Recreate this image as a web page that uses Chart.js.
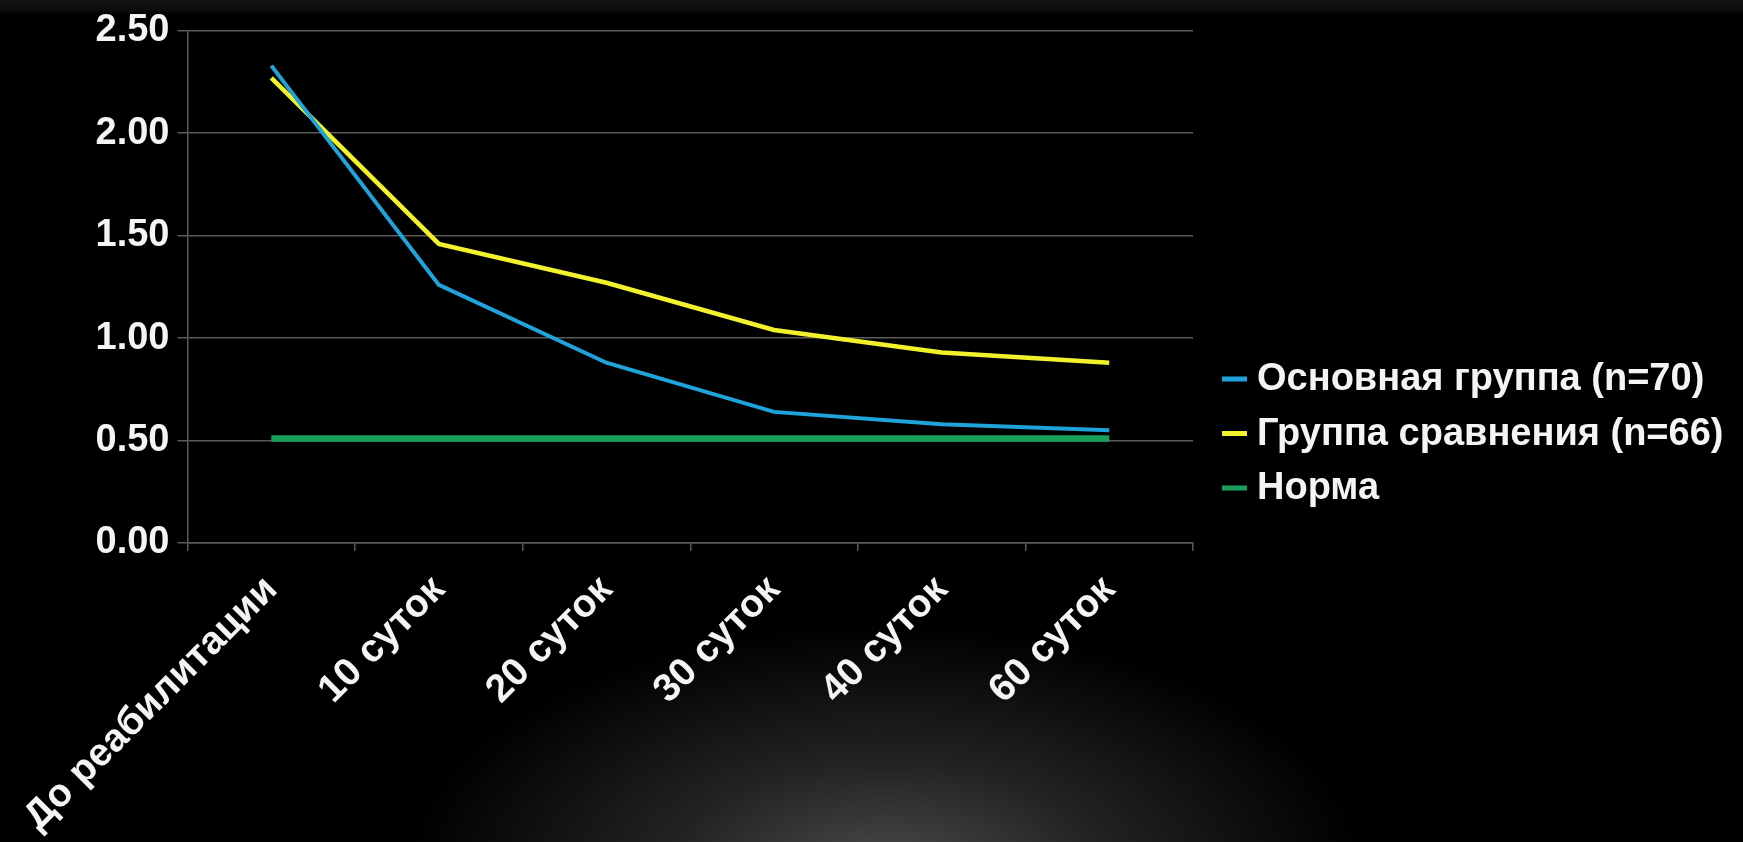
<!DOCTYPE html>
<html lang="ru">
<head>
<meta charset="utf-8">
<title>Динамика показателя</title>
<script src="https://cdn.jsdelivr.net/npm/chart.js@4.4.1/dist/chart.umd.min.js"></script>
<style>
    html, body {
        margin: 0;
        padding: 0;
        width: 1743px;
        height: 842px;
        overflow: hidden;
        background:
            linear-gradient(to bottom, #121212 0px, #0c0c0c 10px, rgba(0,0,0,0) 14px),
            radial-gradient(ellipse 480px 250px at 885px 875px, #4c4c4c 0%, #232323 45%, #000 100%),
            #000;
    }
    #wrap {
        position: absolute;
        left: 0;
        top: 0;
        width: 1743px;
        height: 842px;
    }
</style>
</head>
<body>
<div id="wrap"><canvas id="chart"></canvas></div>
<script>
// Данные
const periods = ['До реабилитации', '10 суток', '20 суток', '30 суток', '40 суток', '60 суток'];
const mainGroup = [2.33, 1.26, 0.88, 0.64, 0.58, 0.55];
const compareGroup = [2.27, 1.46, 1.27, 1.04, 0.93, 0.88];
const normValues = [0.51, 0.51, 0.51, 0.51, 0.51, 0.51];
const yTicks = [0, 0.5, 1, 1.5, 2, 2.5];

const seriesNames = ['Основная группа (n=70)', 'Группа сравнения (n=66)', 'Норма'];
const seriesColors = ['#1ea3da', '#f2f22c', '#17a05c'];

const gridColor = '#5a5a5a';
const textColor = '#f4f4f4';
const font = "'Liberation Sans', Arial, sans-serif";

// легенда справа, рисуется своим плагином (встроенная не помещается по ширине)
const sideLegend = {
    id: 'sideLegend',
    afterDraw(chart) {
        const c = chart.ctx;
        const x0 = 1222, rowY = 379, rowStep = 54.5;
        c.save();
        c.font = 'bold 38px ' + font;
        c.textBaseline = 'middle';
        c.textAlign = 'left';
        chart.data.datasets.forEach((ds, i) => {
            const y = rowY + i * rowStep;
            c.fillStyle = ds.borderColor;
            c.fillRect(x0, y - 2.5, 25, 5);
            c.fillStyle = textColor;
            c.fillText(ds.label, x0 + 35, y + 1);
        });
        c.restore();
    }
};

document.addEventListener('DOMContentLoaded', function() {
    const ctx = document.getElementById('chart').getContext('2d');

    new Chart(ctx, {
        type: 'line',
        data: {
            labels: periods,
            datasets: [
                {
                    label: seriesNames[0],
                    data: mainGroup,
                    borderColor: seriesColors[0],
                    backgroundColor: seriesColors[0],
                    borderWidth: 4
                },
                {
                    label: seriesNames[1],
                    data: compareGroup,
                    borderColor: seriesColors[1],
                    backgroundColor: seriesColors[1],
                    borderWidth: 4.5
                },
                {
                    label: seriesNames[2],
                    data: normValues,
                    borderColor: seriesColors[2],
                    backgroundColor: seriesColors[2],
                    borderWidth: 6.5
                }
            ]
        },
        options: {
            responsive: true,
            maintainAspectRatio: false,
            animation: false,
            elements: {
                point: { radius: 0, hoverRadius: 0 },
                line: { tension: 0, borderCapStyle: 'butt' }
            },
            layout: {
                padding: { top: 28, right: 550, bottom: 0, left: 0 }
            },
            plugins: {
                tooltip: { enabled: false },
                legend: { display: false }
            },
            scales: {
                x: {
                    offset: true,
                    afterFit: function(scale) {
                        scale.height = 299;
                    },
                    border: { color: gridColor, width: 1.5 },
                    grid: {
                        offset: true,
                        drawOnChartArea: false,
                        color: gridColor,
                        lineWidth: 1.5,
                        tickLength: 8
                    },
                    ticks: {
                        color: textColor,
                        font: { family: font, size: 39, weight: 'bold' },
                        minRotation: 45,
                        maxRotation: 45,
                        autoSkip: false,
                        padding: 16
                    }
                },
                y: {
                    min: 0,
                    max: 2.5,
                    afterFit: function(scale) {
                        scale.width = 181.5;
                    },
                    afterBuildTicks: function(scale) {
                        scale.ticks = yTicks.map(v => ({ value: v }));
                    },
                    border: { color: gridColor, width: 1.5 },
                    grid: {
                        color: gridColor,
                        lineWidth: 1.5,
                        tickLength: 10
                    },
                    ticks: {
                        color: textColor,
                        font: { family: font, size: 38, weight: 'bold' },
                        padding: 8,
                        callback: function(value) {
                            return value.toFixed(2);
                        }
                    }
                }
            }
        },
        plugins: [sideLegend]
    });
});
</script>
</body>
</html>
